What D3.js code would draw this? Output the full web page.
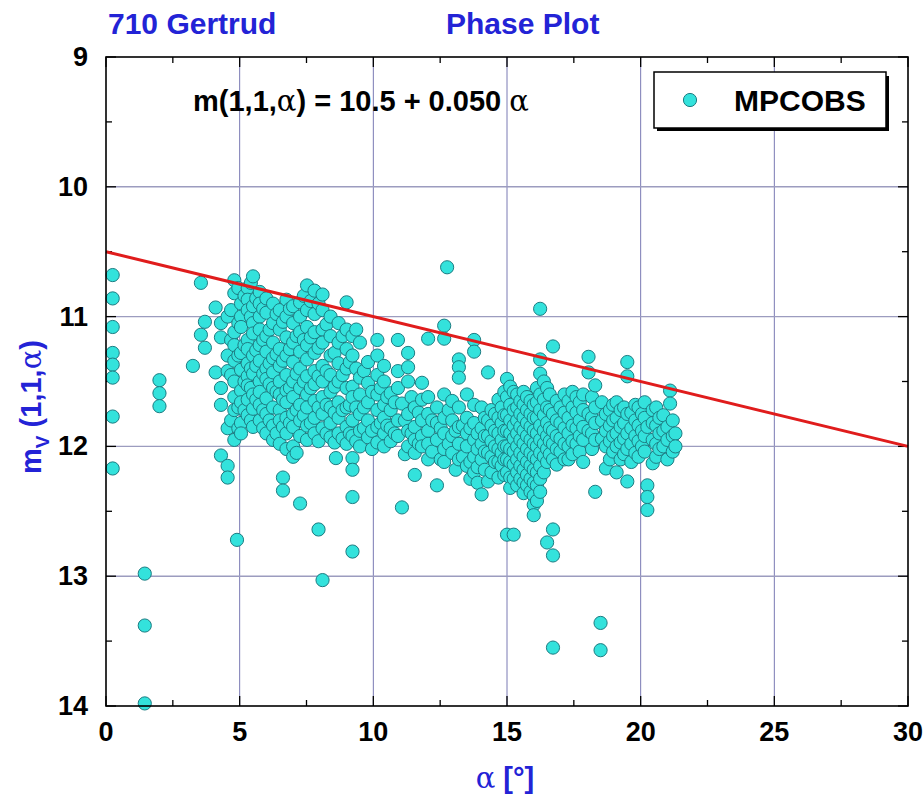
<!DOCTYPE html>
<html>
<head>
<meta charset="utf-8">
<script src="https://cdn.jsdelivr.net/npm/d3@7"></script>
<style>
  html, body { margin: 0; padding: 0; background: #fff; }
  svg { display: block; }
</style>
</head>
<body>
<svg id="chart" width="924" height="801"></svg>
<script>
// Phase plot of 710 Gertrud: reduced magnitude vs. phase angle (MPC observations)

const chartTitle = "710 Gertrud";
const chartSubtitle = "Phase Plot";
const seriesName = "MPCOBS";

// Linear phase relation m(1,1,α) = H + β·α
const fitIntercept = 10.5;
const fitSlope = 0.050;

const xTicks = [0, 5, 10, 15, 20, 25, 30];
const yTicks = [9, 10, 11, 12, 13, 14];

// Observations grouped by phase angle: [alpha, [m(1,1,alpha) values]]
const obsLowPhase = [
  [0.25, [10.68, 10.86, 11.08, 11.28, 11.37, 11.47, 11.77, 12.17]],
  [1.45, [12.98, 13.38, 13.98]],
  [2.0, [11.49, 11.59, 11.69]],
  [3.25, [11.38]],
  [3.55, [10.74, 11.14]],
  [3.7, [11.04, 11.24]],
  [4.1, [10.93, 11.43]],
  [4.3, [11.05, 11.16, 11.55, 11.68, 12.07]]
];

const obsEarlyPhase = [
  [4.55, [11.0, 11.3, 11.42, 11.86, 12.15, 12.24]],
  [4.68, [10.95, 11.18, 11.45, 11.8]],
  [4.8, [10.72, 10.82, 11.12, 11.22, 11.34, 11.5, 11.62, 11.72, 11.95]],
  [4.9, [12.72]],
  [4.95, [10.78, 11.05, 11.3, 11.7, 11.86]],
  [5.05, [10.9, 11.0, 11.08, 11.28, 11.41, 11.57, 11.66, 11.82, 11.9]],
  [5.18, [10.84, 11.22, 11.5, 11.72]],
  [5.3, [10.78, 10.87, 10.95, 11.18, 11.25, 11.36, 11.46, 11.53, 11.64, 11.76]],
  [5.42, [10.74, 11.0, 11.4, 11.55, 11.8]],
  [5.5, [10.69, 10.92, 11.05, 11.13, 11.3, 11.44, 11.6, 11.71, 11.85]],
  [5.62, [10.86, 11.26, 11.38, 11.64]],
  [5.75, [10.81, 10.9, 11.0, 11.1, 11.22, 11.34, 11.5, 11.58, 11.68, 11.8]],
  [5.88, [10.94, 11.18, 11.44, 11.72, 11.86]],
  [6.0, [10.86, 10.97, 11.15, 11.27, 11.4, 11.48, 11.63, 11.75, 11.9]],
  [6.12, [11.1, 11.36, 11.52, 11.8]],
  [6.25, [10.9, 11.05, 11.2, 11.32, 11.43, 11.55, 11.7, 11.84, 11.95]],
  [6.38, [10.98, 11.29, 11.58, 11.9]],
  [6.5, [10.95, 11.1, 11.25, 11.38, 11.5, 11.6, 11.72, 11.8, 11.98]],
  [6.62, [11.04, 11.34, 11.64, 11.85, 12.24, 12.34]],
  [6.75, [10.87, 11.0, 11.16, 11.3, 11.45, 11.57, 11.66, 11.78, 11.9, 12.02]],
  [6.88, [10.94, 11.25, 11.55, 11.82]],
  [7.0, [10.92, 11.05, 11.2, 11.35, 11.5, 11.62, 11.75, 11.85, 12.0, 12.08]],
  [7.13, [11.15, 11.44, 11.72, 12.05]],
  [7.26, [10.89, 11.0, 11.12, 11.27, 11.4, 11.55, 11.68, 11.8, 11.92, 12.44]],
  [7.4, [10.84, 11.18, 11.5, 11.76]],
  [7.52, [10.76, 10.95, 11.08, 11.22, 11.33, 11.46, 11.6, 11.7, 11.84, 11.95]],
  [7.66, [10.88, 11.16, 11.55, 11.82]],
  [7.8, [10.8, 10.98, 11.12, 11.28, 11.42, 11.52, 11.65, 11.78, 11.9]],
  [7.95, [10.9, 11.24, 11.46, 11.7, 11.96, 12.64]],
  [8.1, [10.83, 10.95, 11.1, 11.2, 11.38, 11.5, 11.62, 11.75, 11.86, 13.03]],
  [8.25, [11.06, 11.42, 11.68, 11.9]],
  [8.4, [11.0, 11.15, 11.3, 11.45, 11.58, 11.7, 11.82, 11.93]],
  [8.55, [11.28, 11.54, 11.74, 11.97]],
  [8.6, [12.09]],
  [8.7, [11.05, 11.2, 11.36, 11.5, 11.66, 11.78, 11.9]],
  [8.85, [11.15, 11.45, 11.72, 11.94]]
];

const obsMidPhase = [
  [9.0, [10.89, 11.1, 11.25, 11.4, 11.55, 11.7, 11.85, 11.98]],
  [9.12, [11.35, 11.68, 11.9]],
  [9.22, [11.15, 11.3, 11.54, 11.62, 11.8, 11.92, 12.09, 12.18, 12.39, 12.81]],
  [9.36, [11.1, 11.4, 11.7, 11.96]],
  [9.5, [11.2, 11.47, 11.6, 11.75, 11.88, 12.0]],
  [9.65, [11.42, 11.7, 11.86]],
  [9.8, [11.35, 11.51, 11.66, 11.8, 11.93]],
  [9.95, [11.58, 11.88, 12.02]],
  [10.15, [11.18, 11.3, 11.45, 11.6, 11.72, 11.85, 11.97]],
  [10.28, [11.55, 11.82]],
  [10.4, [11.38, 11.5, 11.68, 11.78, 11.9, 12.0]],
  [10.52, [11.62, 11.84]],
  [10.65, [11.59, 11.72, 11.86, 11.96]],
  [10.8, [11.66, 11.9]],
  [10.92, [11.18, 11.42, 11.55, 11.8, 11.92]],
  [11.07, [11.67, 12.47]],
  [11.18, [11.8, 12.06]],
  [11.3, [11.28, 11.39, 11.5, 11.75, 11.88, 12.0]],
  [11.43, [11.62, 11.9]],
  [11.55, [11.7, 11.85, 11.95, 12.05, 12.22]],
  [11.7, [11.74, 11.98]],
  [11.82, [11.51, 11.64, 11.8, 11.92, 12.0]],
  [12.05, [11.17, 11.62, 11.75, 11.88, 11.98, 12.1]],
  [12.2, [11.8, 12.04]],
  [12.38, [11.7, 11.82, 11.95, 12.3]],
  [12.52, [11.86, 12.1]],
  [12.65, [11.07, 11.17, 11.6, 11.78, 11.9, 12.02, 12.12]],
  [12.76, [10.62]],
  [12.82, [11.72, 11.98]],
  [12.95, [11.65, 11.8, 11.92, 12.05]],
  [13.08, [11.88, 12.18]],
  [13.2, [11.33, 11.39, 11.47, 11.7, 11.85, 11.98, 12.1]],
  [13.35, [11.84, 12.08]],
  [13.5, [11.6, 11.78, 11.9, 12.0, 12.15]],
  [13.63, [11.86, 12.12, 12.25]],
  [13.77, [11.18, 11.27, 11.68, 11.82, 11.95, 12.08, 12.2]],
  [13.9, [11.9, 12.02, 12.16, 12.28]]
];

const obsLatePhase = [
  [14.05, [11.7, 11.86, 11.98, 12.1, 12.37]],
  [14.17, [11.78, 11.92, 12.04, 12.18]],
  [14.29, [11.43, 11.8, 11.92, 12.05, 12.27]],
  [14.42, [11.72, 11.84, 11.96, 12.08, 12.2]],
  [14.55, [11.75, 11.88, 12.0, 12.12]],
  [14.68, [11.64, 11.78, 11.9, 12.02, 12.12, 12.24]],
  [14.8, [11.7, 11.82, 11.95, 12.05, 12.15]],
  [14.9, [11.58, 11.76, 11.88, 12.0, 12.1, 12.22]],
  [15.0, [11.48, 11.62, 11.76, 11.88, 12.0, 12.1, 12.2, 12.68]],
  [15.12, [11.54, 11.68, 11.8, 11.9, 12.02, 12.12, 12.24, 12.32]],
  [15.25, [11.58, 11.72, 11.84, 11.94, 12.04, 12.14, 12.25, 12.68]],
  [15.38, [11.6, 11.7, 11.8, 11.9, 12.0, 12.1, 12.2, 12.3]],
  [15.5, [11.65, 11.75, 11.85, 11.95, 12.05, 12.15, 12.25]],
  [15.62, [11.58, 11.68, 11.78, 11.88, 11.98, 12.08, 12.18, 12.28, 12.36]],
  [15.75, [11.62, 11.72, 11.82, 11.92, 12.02, 12.12, 12.22, 12.3]],
  [15.88, [11.65, 11.75, 11.85, 11.95, 12.05, 12.15, 12.25, 12.35]],
  [16.0, [11.68, 11.78, 11.88, 11.98, 12.08, 12.18, 12.28, 12.38, 12.45, 12.53]],
  [16.12, [11.55, 11.66, 11.78, 11.9, 12.0, 12.1, 12.2, 12.3, 12.42]],
  [16.24, [10.94, 11.33, 11.44, 11.6, 11.72, 11.84, 11.95, 12.05, 12.15, 12.25, 12.35]],
  [16.38, [11.5, 11.64, 11.76, 11.88, 11.98, 12.08, 12.2]],
  [16.5, [11.55, 11.7, 11.82, 11.92, 12.02, 12.12, 12.74]],
  [16.6, [11.6, 11.72, 11.86, 11.96, 12.06]],
  [16.72, [11.23, 11.75, 11.88, 11.98, 12.1, 12.64, 12.84, 13.55]],
  [16.86, [11.65, 11.8, 11.92, 12.02, 12.14]],
  [17.0, [11.7, 11.82, 11.94, 12.04]],
  [17.15, [11.6, 11.74, 11.86, 11.98, 12.1]],
  [17.3, [11.65, 11.78, 11.9, 12.0, 12.1]],
  [17.45, [11.58, 11.7, 11.84, 11.96, 12.06]],
  [17.6, [11.62, 11.74, 11.86, 11.98]],
  [17.72, [11.66, 11.8, 11.92, 12.04]],
  [17.85, [11.6, 11.72, 11.85, 11.95, 12.12]],
  [18.05, [11.31, 11.43, 11.75, 11.88]],
  [18.18, [11.62, 11.78, 11.9, 12.02]],
  [18.3, [11.53, 11.7, 11.82, 11.95, 12.35]],
  [18.5, [13.36, 13.57]],
  [18.55, [11.66, 11.8, 11.94]],
  [18.7, [11.75, 11.88, 12.0, 12.17]],
  [18.85, [11.72, 11.84, 11.96, 12.1]],
  [18.97, [11.68, 11.8, 11.92, 12.04]],
  [19.1, [11.66, 11.78, 11.9, 12.0, 12.2]],
  [19.25, [11.72, 11.85, 11.97, 12.1]],
  [19.38, [11.7, 11.82, 11.94, 12.06]],
  [19.5, [11.35, 11.46, 11.75, 11.9, 12.02, 12.27]],
  [19.65, [11.74, 11.86, 11.98, 12.12]],
  [19.8, [11.68, 11.8, 11.92, 12.05]],
  [19.92, [11.7, 11.84, 11.96, 12.08]],
  [20.05, [11.75, 11.88, 12.0]],
  [20.15, [11.66, 11.78, 11.92, 12.04]],
  [20.25, [11.85, 12.3, 12.39, 12.49]],
  [20.45, [11.72, 11.82, 11.95, 12.13]],
  [20.58, [11.7, 11.84, 11.98, 12.08]],
  [20.7, [11.78, 11.9, 12.02]],
  [20.85, [11.76, 11.88, 12.0]],
  [21.0, [11.85, 11.95, 12.1]],
  [21.1, [11.57, 11.67]],
  [21.2, [11.8, 11.92, 12.04]],
  [21.3, [11.9, 12.0]]
];

const points = [obsLowPhase, obsEarlyPhase, obsMidPhase, obsLatePhase]
  .flat()
  .flatMap(([a, mags]) => mags.map(m => ({ alpha: a, mag: m })));

const svg = d3.select("#chart");
const plot = { left: 106, right: 908, top: 57, bottom: 706 };

const x = d3.scaleLinear().domain([0, 30]).range([plot.left, plot.right]);
const y = d3.scaleLinear().domain([9, 14]).range([plot.top, plot.bottom]);

const sansBold = "'Liberation Sans', Arial, sans-serif";
const serif = "'DejaVu Serif', serif";
const blue = "#2323d6";
const markFill = "#33e2dc";
const markStroke = "#1d7c82";

// grid lines
const grid = svg.append("g");
grid.selectAll("line.v").data(xTicks.slice(1, -1)).join("line")
  .attr("x1", d => x(d)).attr("x2", d => x(d))
  .attr("y1", plot.top).attr("y2", plot.bottom)
  .attr("stroke", "#7a7ab4").attr("stroke-width", 1);
grid.selectAll("line.h").data(yTicks.slice(1, -1)).join("line")
  .attr("y1", d => y(d)).attr("y2", d => y(d))
  .attr("x1", plot.left).attr("x2", plot.right)
  .attr("stroke", "#9c9cbf").attr("stroke-width", 1.4);

// inward ticks on all four sides
const minorX = d3.range(2.5, 30, 5);
const minorY = d3.range(9.5, 14, 1);
const tickG = svg.append("g").attr("stroke", "#000").attr("stroke-width", 1.3);
[[xTicks, 10], [minorX, 6]].forEach(([vals, len]) => {
  tickG.selectAll(null).data(vals).join("line")
    .attr("x1", d => x(d)).attr("x2", d => x(d))
    .attr("y1", plot.bottom).attr("y2", plot.bottom - len);
  tickG.selectAll(null).data(vals).join("line")
    .attr("x1", d => x(d)).attr("x2", d => x(d))
    .attr("y1", plot.top).attr("y2", plot.top + len);
});
[[yTicks, 10], [minorY, 6]].forEach(([vals, len]) => {
  tickG.selectAll(null).data(vals).join("line")
    .attr("y1", d => y(d)).attr("y2", d => y(d))
    .attr("x1", plot.left).attr("x2", plot.left + len);
  tickG.selectAll(null).data(vals).join("line")
    .attr("y1", d => y(d)).attr("y2", d => y(d))
    .attr("x1", plot.right).attr("x2", plot.right - len);
});

// observations
svg.append("g").selectAll("circle").data(points).join("circle")
  .attr("cx", d => x(d.alpha))
  .attr("cy", d => y(d.mag))
  .attr("r", 6.6)
  .attr("fill", markFill)
  .attr("stroke", markStroke)
  .attr("stroke-width", 1);

// fitted phase relation
const line = d3.line().x(d => x(d)).y(d => y(fitIntercept + fitSlope * d));
svg.append("path").datum([0, 30])
  .attr("d", line)
  .attr("fill", "none")
  .attr("stroke", "#e01c1c")
  .attr("stroke-width", 3);

// frame
svg.append("rect")
  .attr("x", plot.left).attr("y", plot.top)
  .attr("width", plot.right - plot.left).attr("height", plot.bottom - plot.top)
  .attr("fill", "none").attr("stroke", "#000").attr("stroke-width", 1.6);

// tick labels
svg.append("g").selectAll("text").data(xTicks).join("text")
  .attr("x", d => x(d)).attr("y", plot.bottom + 35)
  .attr("text-anchor", "middle")
  .attr("font-family", sansBold).attr("font-weight", "bold").attr("font-size", 27)
  .text(d => d);
svg.append("g").selectAll("text").data(yTicks).join("text")
  .attr("x", plot.left - 18).attr("y", d => y(d) + 9)
  .attr("text-anchor", "end")
  .attr("font-family", sansBold).attr("font-weight", "bold").attr("font-size", 27)
  .text(d => d);

// titles
svg.append("text").attr("x", 108).attr("y", 34)
  .attr("font-family", sansBold).attr("font-weight", "bold").attr("font-size", 30)
  .attr("fill", blue).text(chartTitle);
svg.append("text").attr("x", 446).attr("y", 34)
  .attr("font-family", sansBold).attr("font-weight", "bold").attr("font-size", 30)
  .attr("fill", blue).text(chartSubtitle);

// fit formula
const formula = svg.append("text").attr("x", 193).attr("y", 111)
  .attr("font-family", sansBold).attr("font-weight", "bold").attr("font-size", 29);
formula.append("tspan").text("m(1,1,");
formula.append("tspan").attr("font-family", serif).attr("font-weight", "normal").text("α");
formula.append("tspan").text(`) = ${fitIntercept.toFixed(1)} + ${fitSlope.toFixed(3)} `);
formula.append("tspan").attr("font-family", serif).attr("font-weight", "normal").text("α");

// legend
const lg = svg.append("g");
lg.append("rect").attr("x", 657).attr("y", 76).attr("width", 232).attr("height", 55).attr("fill", "#000");
lg.append("rect").attr("x", 654).attr("y", 72).attr("width", 232).attr("height", 56)
  .attr("fill", "#fff").attr("stroke", "#000").attr("stroke-width", 1.5);
lg.append("circle").attr("cx", 690).attr("cy", 100).attr("r", 6.6)
  .attr("fill", markFill).attr("stroke", markStroke).attr("stroke-width", 1);
lg.append("text").attr("x", 734).attr("y", 111)
  .attr("font-family", sansBold).attr("font-weight", "bold").attr("font-size", 30)
  .text(seriesName);

// axis titles
const xt = svg.append("text").attr("x", 505).attr("y", 788)
  .attr("text-anchor", "middle").attr("fill", blue)
  .attr("font-family", sansBold).attr("font-size", 29);
xt.append("tspan").attr("font-family", serif).text("α");
xt.append("tspan").attr("font-weight", "bold").text(" [°]");

const yt = svg.append("text")
  .attr("transform", "translate(41,407) rotate(-90)")
  .attr("text-anchor", "middle").attr("fill", blue)
  .attr("font-family", sansBold).attr("font-weight", "bold").attr("font-size", 29);
yt.append("tspan").text("m");
yt.append("tspan").attr("font-size", 19).attr("dy", 8).text("V");
yt.append("tspan").attr("dy", -8).text(" (1,1,");
yt.append("tspan").attr("font-family", serif).attr("font-weight", "normal").text("α");
yt.append("tspan").text(")");
</script>
</body>
</html>
